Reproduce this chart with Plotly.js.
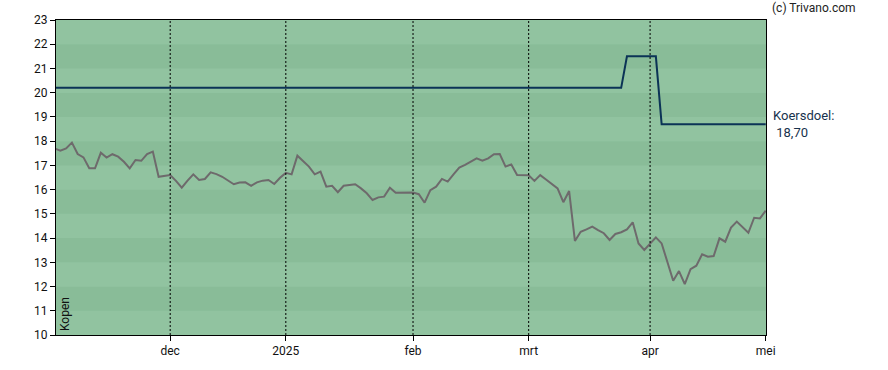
<!DOCTYPE html>
<html>
<head>
<meta charset="utf-8">
<script src="https://cdn.plot.ly/plotly-3.0.1.min.js"></script>
<style>html,body{margin:0;padding:0;background:#fff;}#chart{width:888px;height:370px;}</style>
</head>
<body>
<div id="chart"></div>
<script>
// Koers (closing price) per trading day
const price = [
  17.70,17.61,17.70,17.94,17.47,17.33,16.88,16.88,17.52,17.32,
  17.46,17.36,17.15,16.88,17.22,17.19,17.47,17.57,16.53,16.57,
  16.60,16.36,16.08,16.37,16.63,16.40,16.44,16.71,16.64,16.53,
  16.37,16.22,16.29,16.30,16.16,16.30,16.37,16.40,16.23,16.49,
  16.69,16.63,17.40,17.19,16.95,16.63,16.74,16.12,16.16,15.89,
  16.16,16.19,16.22,16.05,15.85,15.57,15.68,15.71,16.08,15.87,
  15.87,15.87,15.88,15.81,15.46,15.98,16.12,16.44,16.33,16.63,
  16.91,17.02,17.15,17.29,17.19,17.29,17.46,17.47,16.95,17.04,
  16.60,16.60,16.59,16.36,16.60,16.42,16.23,16.05,15.48,15.94,
  13.88,14.26,14.36,14.47,14.33,14.20,13.92,14.17,14.24,14.36,
  14.65,13.78,13.51,13.76,14.03,13.78,13.03,12.24,12.64,12.10,
  12.72,12.86,13.33,13.23,13.26,13.99,13.85,14.43,14.68,14.44,
  14.22,14.84,14.81,15.13
];
// Koersdoel (price target) per trading day
const target = [].concat(
  Array(99).fill(20.2),
  Array(6).fill(21.5),
  Array(19).fill(18.7)
);
const tickPos = [20, 40, 62, 82, 103, 123];
const tickText = ['dec', '2025', 'feb', 'mrt', 'apr', 'mei'];
const yTicks = [10,11,12,13,14,15,16,17,18,19,20,21,22,23];

const xs = price.map((_, i) => i);

const shapes = [];
for (let k = 10; k < 23; k++) {
  shapes.push({type:'rect', xref:'paper', yref:'y', x0:0, x1:1, y0:k, y1:k+1,
    fillcolor: (k % 2 === 1) ? '#89bc98' : '#91c3a0', line:{width:0}, layer:'below'});
}
tickPos.slice(0, 5).forEach(p => {
  shapes.push({type:'line', xref:'x', yref:'paper', x0:p, x1:p, y0:0, y1:1,
    line:{color:'#000', width:1, dash:'2px,2px'}, layer:'above'});
});

const data = [
  {x: xs, y: target, type:'scatter', mode:'lines', line:{color:'#0b3356', width:2}, hoverinfo:'skip'},
  {x: xs, y: price, type:'scatter', mode:'lines', line:{color:'#6e6a6c', width:2}, hoverinfo:'skip'}
];

const lastTarget = target[target.length - 1].toFixed(2).replace('.', ',');

const layout = {
  width: 888, height: 370,
  margin: {l:56, r:122, t:20, b:35},
  paper_bgcolor:'#ffffff', plot_bgcolor:'#91c3a0',
  showlegend:false,
  font:{family:'Roboto, "Open Sans", sans-serif', size:12, color:'#111'},
  xaxis:{range:[0.25, 123.05], tickmode:'array', tickvals:tickPos, ticktext:tickText,
    showgrid:false, zeroline:false, showline:true, linecolor:'#000', linewidth:1, mirror:true,
    ticks:'outside', ticklen:5, tickcolor:'#000', tickfont:{size:12, color:'#111'}},
  yaxis:{range:[10, 23], tickmode:'array', tickvals:yTicks, ticktext:yTicks.map(String),
    showgrid:false, zeroline:false, showline:true, linecolor:'#000', linewidth:1, mirror:true,
    ticks:'outside', ticklen:5, tickcolor:'#000', tickfont:{size:12, color:'#111'}},
  shapes: shapes,
  annotations: [
    {xref:'paper', yref:'y', x:1, y:target[target.length-1], xanchor:'left', yanchor:'middle',
     xshift:5, showarrow:false, align:'left', text:'Koersdoel:<br> ' + lastTarget,
     font:{size:13, color:'#17324d'}},
    {xref:'paper', yref:'paper', x:1, y:1, xanchor:'left', yanchor:'bottom', xshift:4, yshift:3,
     showarrow:false, text:'(c) Trivano.com', font:{size:12, color:'#222'}},
    {xref:'paper', yref:'paper', x:0, y:0, xanchor:'left', yanchor:'bottom', xshift:0, yshift:2,
     showarrow:false, textangle:-90, text:'Kopen', font:{size:12, color:'#111'}}
  ]
};

Plotly.newPlot('chart', data, layout, {staticPlot:true, displayModeBar:false});
</script>
</body>
</html>
